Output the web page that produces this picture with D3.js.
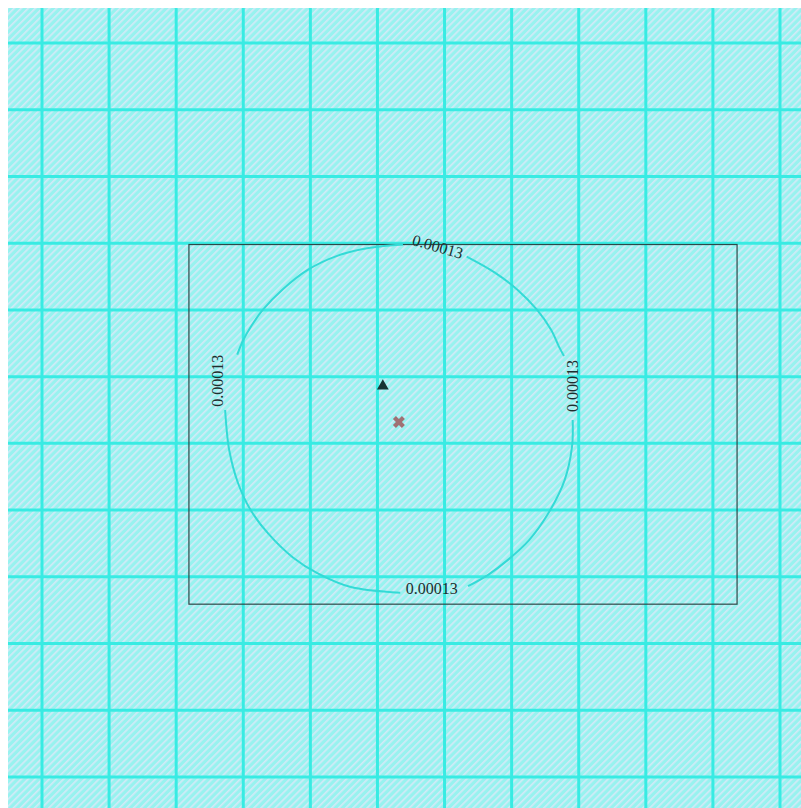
<!DOCTYPE html>
<html>
<head>
<meta charset="utf-8">
<script src="https://cdn.jsdelivr.net/npm/d3@7"></script>
<style>
  body { margin: 0; background: #fff; }
  svg { display: block; }
  .clabel { font-family: "Liberation Serif", "DejaVu Serif", serif; font-size: 16px; fill: #1e2e2e; }
</style>
</head>
<body>
<div id="chart"></div>
<script>
// grid ticks (km)
const gridEast = [0, 10, 20, 30, 40, 50, 60, 70, 80, 90, 100, 110];
const gridNorth = [0, 10, 20, 30, 40, 50, 60, 70, 80, 90, 100, 110];

// study area box [east0, east1], [north0, north1]
const boxEast = [21.9, 103.6];
const boxNorth = [25.9, 79.8];

// 0.00013 contour, split where the labels sit
const arcNE = [[63.3, 78.0], [67.5, 75.6], [70.9, 73.0], [73.8, 70.0], [75.9, 67.0], [77.05, 64.5], [77.8, 63.1]];
const arcSE = [[79.1, 53.5], [79.0, 49.5], [77.9, 44.5], [75.4, 39.4], [72.6, 35.5], [69.4, 32.5], [66.5, 30.3], [63.5, 28.6]];
const arcSW = [[53.4, 27.6], [45.9, 28.5], [41.1, 30.5], [37.4, 32.9], [33.7, 36.5], [31.1, 40.0], [29.2, 44.1], [27.9, 49.0], [27.4, 53.5], [27.3, 55.0]];
const arcNW = [[29.1, 63.3], [30.0, 65.5], [31.2, 67.6], [32.9, 70.0], [35.9, 73.1], [39.6, 76.0], [44.0, 78.1], [48.9, 79.3], [53.8, 79.8]];

// contour labels: east, north, angle
const labelText = "0.00013";
const labelEast = [59.0, 79.0, 58.1, 26.2];
const labelNorth = [79.5, 58.6, 28.3, 59.4];
const labelAngle = [16, -90, 0, -90];

// point markers
const sourcePt = [50.8, 58.6];
const peakPt = [53.2, 53.2];

const width = 801, height = 808;

const x = d3.scaleLinear().domain([0, 110]).range([42, 780]);
const y = d3.scaleLinear().domain([0, 110]).range([777, 43]);

const svg = d3.select("#chart").append("svg")
  .attr("width", width)
  .attr("height", height);

const defs = svg.append("defs");
const hatch = defs.append("pattern")
  .attr("id", "hatch")
  .attr("patternUnits", "userSpaceOnUse")
  .attr("width", 5)
  .attr("height", 5)
  .attr("patternTransform", "rotate(45)");
hatch.append("rect").attr("width", 5).attr("height", 5).attr("fill", "#98f2ef");
hatch.append("rect").attr("width", 1.7).attr("height", 5).attr("fill", "#d2eaf7");

// map panel
svg.append("rect")
  .attr("x", 8)
  .attr("y", 8)
  .attr("width", width - 8)
  .attr("height", height - 8)
  .attr("fill", "url(#hatch)");

const grid = svg.append("g");
grid.selectAll(".gx")
  .data(gridEast)
  .enter()
  .append("line")
  .attr("x1", (d) => x(d))
  .attr("x2", (d) => x(d))
  .attr("y1", 8)
  .attr("y2", height)
  .style("stroke", "#38ebe3")
  .style("stroke-width", 3);
grid.selectAll(".gy")
  .data(gridNorth)
  .enter()
  .append("line")
  .attr("y1", (d) => y(d))
  .attr("y2", (d) => y(d))
  .attr("x1", 8)
  .attr("x2", width)
  .style("stroke", "#38ebe3")
  .style("stroke-width", 3);

// study area frame
svg.append("rect")
  .attr("x", x(boxEast[0]))
  .attr("y", y(boxNorth[1]))
  .attr("width", x(boxEast[1]) - x(boxEast[0]))
  .attr("height", y(boxNorth[0]) - y(boxNorth[1]))
  .attr("fill", "none")
  .style("stroke", "#2f4848")
  .style("stroke-width", 1.2);

const line = d3.line()
  .x((d) => x(d[0]))
  .y((d) => y(d[1]))
  .curve(d3.curveCatmullRom.alpha(0.5));

svg.selectAll(".arc")
  .data([arcNE, arcSE, arcSW, arcNW])
  .enter()
  .append("path")
  .attr("d", line)
  .attr("fill", "none")
  .style("stroke", "#34dad6")
  .style("stroke-width", 2);

svg.selectAll(".clabel")
  .data(labelEast)
  .enter()
  .append("text")
  .attr("class", "clabel")
  .attr("text-anchor", "middle")
  .attr("dominant-baseline", "central")
  .attr("transform", (d, i) => "translate(" + x(d) + "," + y(labelNorth[i]) + ") rotate(" + labelAngle[i] + ")")
  .text(labelText);

svg.append("path")
  .attr("d", d3.symbol(d3.symbolTriangle, 60)())
  .attr("transform", "translate(" + x(sourcePt[0]) + "," + y(sourcePt[1]) + ")")
  .attr("fill", "#173434");

svg.append("path")
  .attr("d", d3.symbol(d3.symbolCross, 90)())
  .attr("transform", "translate(" + x(peakPt[0]) + "," + y(peakPt[1]) + ") rotate(45)")
  .attr("fill", "#a07074");
</script>
</body>
</html>
